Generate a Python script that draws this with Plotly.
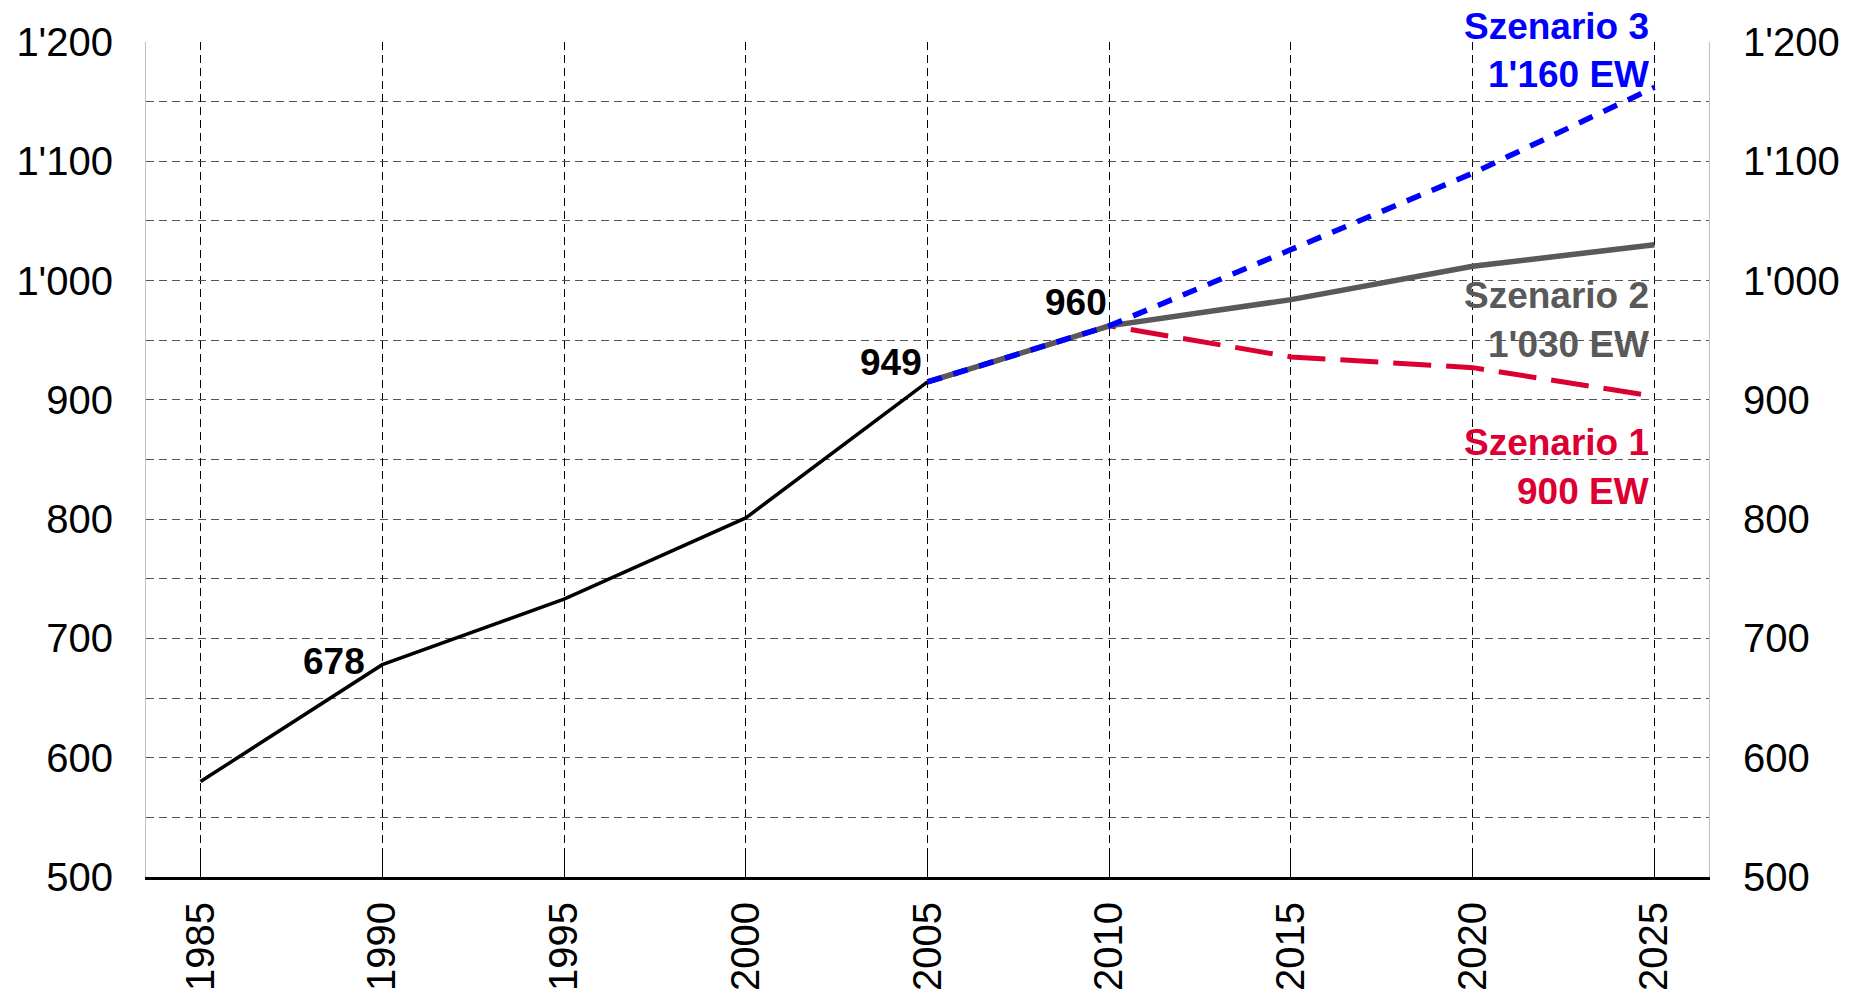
import plotly.graph_objects as go

# ---- data ----
hist_years = [1985, 1990, 1995, 2000, 2005]
hist_values = [580, 678, 733, 801, 915]

scen_years = [2005, 2010, 2015, 2020, 2025]
scen1_values = [915, 962, 936, 927, 903]
scen2_values = [915, 962, 984, 1012, 1030]
scen3_values = [915, 962, 1026, 1090, 1162]

x_ticks = [1985, 1990, 1995, 2000, 2005, 2010, 2015, 2020, 2025]
x_ticktext = ["1985", "1990", "1995", "2000", "2005", "2010", "2015", "2020", "2025"]
y_ticks = [500, 600, 700, 800, 900, 1000, 1100, 1200]
y_ticktext = ["500", "600", "700", "800", "900", "1'000", "1'100", "1'200"]

# point labels: (year, value, text)
point_labels = [(1990, 678, "678"), (2005, 915, "949"), (2010, 960, "960")]
scen_labels = [
    ("Szenario 1", "900 EW", 903),
    ("Szenario 2", "1'030 EW", 1030),
    ("Szenario 3", "1'160 EW", 1162),
]

RED = "#DC0032"
GRAY = "#595959"
BLUE = "#0000FF"
FONT = "Arial, Liberation Sans, sans-serif"

fig = go.Figure()
fig.add_trace(go.Scatter(x=hist_years, y=hist_values, mode="lines",
                         line=dict(color="black", width=3.5), showlegend=False))
fig.add_trace(go.Scatter(x=scen_years, y=scen1_values, mode="lines",
                         line=dict(color=RED, width=5, dash="38px,15px"), showlegend=False))
fig.add_trace(go.Scatter(x=scen_years, y=scen2_values, mode="lines",
                         line=dict(color=GRAY, width=5.5), showlegend=False))
fig.add_trace(go.Scatter(x=scen_years, y=scen3_values, mode="lines", yaxis="y2",
                         line=dict(color=BLUE, width=5.5, dash="15px,12px"), showlegend=False))

annotations = []
offsets_pts = [(-15, 3), (-4, 19), (0, 26)]
for (yr, val, txt), (dx, dy) in zip(point_labels, offsets_pts):
    annotations.append(dict(x=yr, y=val, xref="x", yref="y", text="<b>%s</b>" % txt,
                            showarrow=False, xanchor="right", yanchor="middle",
                            xshift=dx, yshift=dy,
                            font=dict(family=FONT, size=37, color="black")))

scen_colors = [RED, GRAY, BLUE]
scen_shifts = [(-46, -95), (-51, -100), (61, 13)]
for (name, val_txt, endv), col, (s1, s2) in zip(scen_labels, scen_colors, scen_shifts):
    for txt, sh in ((name, s1), (val_txt, s2)):
        annotations.append(dict(x=scen_years[-1], y=endv, xref="x", yref="y",
                                text="<b>%s</b>" % txt, showarrow=False,
                                xanchor="right", yanchor="middle", xshift=-3, yshift=sh,
                                font=dict(family=FONT, size=37, color=col)))

grid_dash = "8px,5px"
# page body has an 8px default margin; figure sized to fit without scrollbars
fig.update_layout(
    width=1838, height=986,
    margin=dict(l=138, r=137, t=34, b=117, autoexpand=False),
    paper_bgcolor="white", plot_bgcolor="white",
    font=dict(family=FONT, size=40, color="black"),
    annotations=annotations,
    xaxis=dict(
        range=[1983.5, 2026.5], tickvals=x_ticks, ticktext=x_ticktext,
        tickangle=-90, showgrid=True, gridcolor="#000000", gridwidth=1, griddash=grid_dash,
        showline=True, linecolor="black", linewidth=3,
        ticks="inside", ticklen=22, tickcolor="black", tickwidth=1,
        ticklabelstandoff=6, zeroline=False, automargin=False,
        tickfont=dict(family=FONT, size=40, color="black"),
    ),
    yaxis=dict(
        range=[500, 1200], tickvals=y_ticks, ticktext=y_ticktext,
        showgrid=True, gridcolor="#555555", gridwidth=1.3, griddash=grid_dash,
        minor=dict(tick0=500, dtick=50, showgrid=True, gridcolor="#555555",
                   gridwidth=1.3, griddash=grid_dash),
        showline=True, linecolor="#c0c0c0", linewidth=1,
        ticks="", ticklabelstandoff=24, zeroline=False, automargin=False,
        tickfont=dict(family=FONT, size=40, color="black"),
    ),
    yaxis2=dict(
        range=[500, 1200], tickvals=y_ticks, ticktext=y_ticktext,
        overlaying="y", side="right", showgrid=False,
        showline=True, linecolor="#c0c0c0", linewidth=1,
        ticks="", ticklabelstandoff=25, zeroline=False, automargin=False,
        tickfont=dict(family=FONT, size=40, color="black"),
    ),
)

fig.write_html("out.html")
